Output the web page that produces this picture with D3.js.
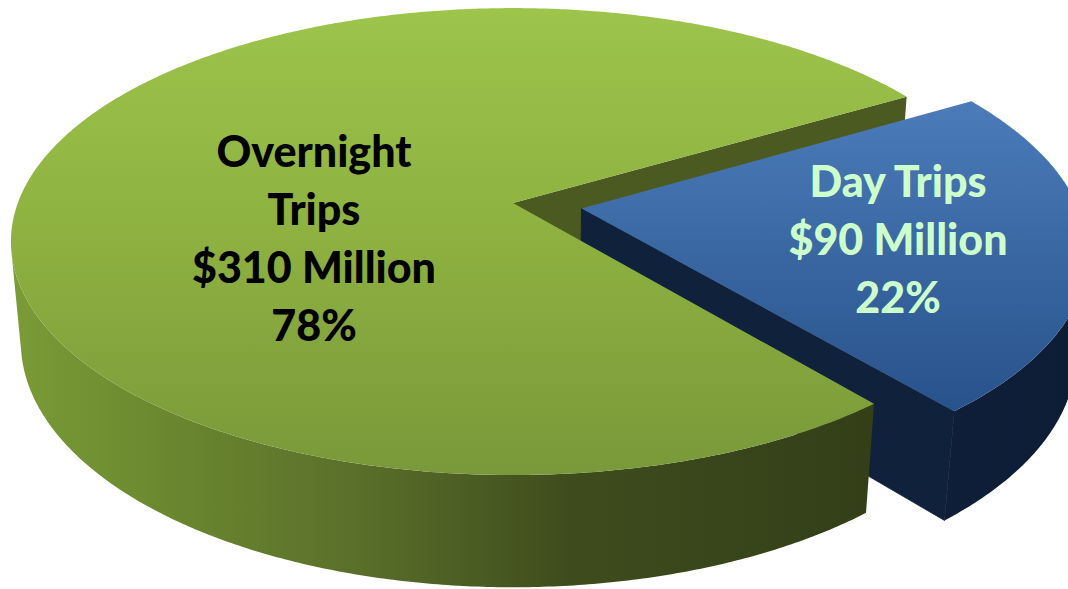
<!DOCTYPE html>
<html>
<head>
<meta charset="utf-8">
<script src="https://cdn.jsdelivr.net/npm/d3@7"></script>
<style>
  html, body { margin: 0; padding: 0; background: #ffffff; }
  svg { display: block; }
</style>
</head>
<body>
<svg id="chart" width="1068" height="589"></svg>
<script>
// Spending by trip type
const categories = ["Day Trips", "Overnight Trips"];
const categoryLines = [["Day Trips"], ["Overnight", "Trips"]];
const values = [90, 310];
const amountLabels = ["$90 Million", "$310 Million"];
const percentLabels = ["22%", "78%"];

const W = 1068, H = 589;

// Simple pinhole camera looking down at the pie disc (radius 1)
const view = { f: 2664, d: 5.38, tilt: 27.3 * Math.PI / 180, cx: 513, cy: 203, thick: 0.23 };
const sinT = Math.sin(view.tilt), cosT = Math.cos(view.tilt);
function project(x, y, z) {
  const yc = y * cosT - z * sinT;
  const zc = view.d - y * sinT - z * cosT;
  return [view.cx + view.f * x / zc, view.cy - view.f * yc / zc];
}

const startDeg = 59.5;
const pie = d3.pie().sort(null).value(d => d)
  .startAngle(startDeg * Math.PI / 180)
  .endAngle(startDeg * Math.PI / 180 + 2 * Math.PI);
const arcs = pie(values);

// the Day Trips slice is pulled out of the pie
const explode = [0.14, 0];
arcs.forEach((a, i) => {
  const mid = (a.startAngle + a.endAngle) / 2;
  a.ex = explode[i] * Math.sin(mid);
  a.ez = -explode[i] * Math.cos(mid);
});

const svg = d3.select("#chart");
const defs = svg.append("defs");

function linGrad(id, x1, y1, x2, y2, stops) {
  const g = defs.append("linearGradient").attr("id", id)
    .attr("gradientUnits", "userSpaceOnUse")
    .attr("x1", x1).attr("y1", y1).attr("x2", x2).attr("y2", y2);
  stops.forEach(s => g.append("stop").attr("offset", s[0]).attr("stop-color", s[1]));
}
linGrad("greenTop", 0, 8, 0, 480, [[0, "#9dc44b"], [0.5, "#8db040"], [1, "#79983a"]]);
linGrad("greenWall", 15, 0, 870, 0, [[0, "#7a9b37"], [0.12, "#6f8e31"], [0.4, "#5a6f2a"], [0.65, "#3e4c1d"], [1, "#343f18"]]);
linGrad("blueTop", 0, 100, 0, 410, [[0, "#4b7cb9"], [1, "#28528b"]]);
linGrad("blueWall", 580, 0, 1068, 0, [[0, "#13243f"], [1, "#0e1d36"]]);

const line = d3.line().curve(d3.curveLinearClosed);

function rimPoint(a, theta, y) {
  return project(a.ex + Math.sin(theta), y, a.ez - Math.cos(theta));
}
function centerPoint(a, y) {
  return project(a.ex, y, a.ez);
}
function sampleAngles(a0, a1) {
  const n = Math.max(2, Math.ceil((a1 - a0) / (Math.PI / 360)));
  return d3.range(n + 1).map(k => a0 + (a1 - a0) * k / n);
}
function wallVisible(a, theta) {
  const px = a.ex + Math.sin(theta), pz = a.ez - Math.cos(theta);
  return (-px) * Math.sin(theta) + (view.d * cosT - pz) * (-Math.cos(theta)) > 0;
}

function topFace(a) {
  const pts = [centerPoint(a, 0)].concat(
    sampleAngles(a.startAngle, a.endAngle).map(t => rimPoint(a, t, 0)));
  return line(pts);
}
function outerWall(a) {
  const ts = sampleAngles(a.startAngle, a.endAngle).filter(t => wallVisible(a, t));
  if (ts.length < 2) return null;
  const top = ts.map(t => rimPoint(a, t, 0));
  const bottom = ts.slice().reverse().map(t => rimPoint(a, t, -view.thick));
  return line(top.concat(bottom));
}
function radialWall(a, theta) {
  return line([centerPoint(a, 0), rimPoint(a, theta, 0),
               rimPoint(a, theta, -view.thick), centerPoint(a, -view.thick)]);
}

const day = arcs[0], night = arcs[1];
const g = svg.append("g");

// back-to-front drawing order
g.append("path").attr("d", radialWall(night, night.endAngle)).attr("fill", "#4a5a20");
const dayWall = outerWall(day);
if (dayWall) g.append("path").attr("d", dayWall).attr("fill", "url(#blueWall)");
g.append("path").attr("d", radialWall(day, day.endAngle)).attr("fill", "#10213b")
  .attr("stroke", "#10213b").attr("stroke-width", 0.8);
g.append("path").attr("d", topFace(day)).attr("fill", "url(#blueTop)");
const nightWall = outerWall(night);
if (nightWall) g.append("path").attr("d", nightWall).attr("fill", "url(#greenWall)");
g.append("path").attr("d", topFace(night)).attr("fill", "url(#greenTop)");

// labels
const labelAnchors = [[898, 197], [314, 167]];
const labelColors = ["#ccffcc", "#000000"];
const lineStep = 58;
categories.forEach((c, i) => {
  const lines = categoryLines[i].concat([amountLabels[i], percentLabels[i]]);
  const t = svg.append("text")
    .attr("text-anchor", "middle")
    .attr("font-family", "Lato, 'Open Sans', sans-serif")
    .attr("font-weight", 900)
    .attr("font-size", 43)
    .attr("fill", labelColors[i]);
  lines.forEach((s, k) => {
    t.append("tspan").attr("x", labelAnchors[i][0]).attr("y", labelAnchors[i][1] + k * lineStep).text(s);
  });
});
</script>
</body>
</html>
